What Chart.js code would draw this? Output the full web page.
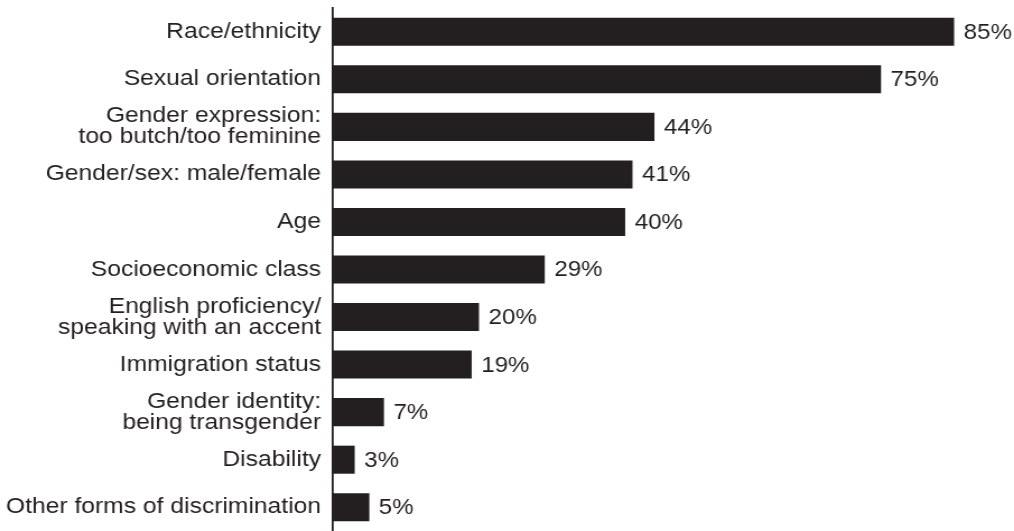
<!DOCTYPE html>
<html>
<head>
<meta charset="utf-8">
<script src="https://cdn.jsdelivr.net/npm/chart.js@4"></script>
<style>
  body { margin: 0; background: #fff; overflow: hidden; }
  /* the reference type is a little wide, so the whole chart is stretched sideways */
  #wrap { width: 905px; height: 531px; transform: scaleX(1.1205); transform-origin: 0 0; }
</style>
</head>
<body>
<div id="wrap"><canvas id="barChart"></canvas></div>
<script>
const categories = [
  "Race/ethnicity",
  "Sexual orientation",
  ["Gender expression:", "too butch/too feminine"],
  "Gender/sex: male/female",
  "Age",
  "Socioeconomic class",
  ["English proficiency/", "speaking with an accent"],
  "Immigration status",
  ["Gender identity:", "being transgender"],
  "Disability",
  "Other forms of discrimination"
];
const values = [85, 75, 44, 41, 40, 29, 20, 19, 7, 3, 5];
const valueLabels = values.map(v => v + "%");

const ink = "#231f20";
const fontFamily = "'Liberation Sans', Arial, Helvetica, sans-serif";

// etichette dei valori a destra delle barre
const valueLabelPlugin = {
  id: "valueLabels",
  afterDatasetsDraw(chart) {
    const ctx = chart.ctx;
    const meta = chart.getDatasetMeta(0);
    ctx.save();
    ctx.font = "21.5px " + fontFamily;
    ctx.fillStyle = ink;
    ctx.textAlign = "left";
    ctx.textBaseline = "middle";
    meta.data.forEach((bar, i) => {
      ctx.fillText(valueLabels[i], bar.x + 8.5, bar.y + 1);
    });
    ctx.restore();
  }
};

new Chart(document.getElementById("barChart"), {
  type: "bar",
  data: {
    labels: categories,
    datasets: [{
      data: values,
      backgroundColor: ink,
      borderWidth: 0,
      barPercentage: 0.59,
      categoryPercentage: 1
    }]
  },
  options: {
    indexAxis: "y",
    responsive: true,
    maintainAspectRatio: false,
    animation: false,
    layout: { padding: { top: 8, right: 0, bottom: 0, left: 0 } },
    plugins: {
      legend: { display: false },
      tooltip: { enabled: false }
    },
    scales: {
      x: {
        display: false,
        min: 0,
        max: 93.2
      },
      y: {
        grid: { display: false, drawTicks: false },
        border: { display: true, color: ink, width: 1.8 },
        ticks: {
          color: ink,
          padding: 10.5,
          font: { size: 22, family: fontFamily, lineHeight: 0.95 }
        },
        afterFit(scale) {
          scale.width = 297;
          scale.paddingTop = 0;
          scale.paddingBottom = 0;
        }
      }
    }
  },
  plugins: [valueLabelPlugin]
});
</script>
</body>
</html>
